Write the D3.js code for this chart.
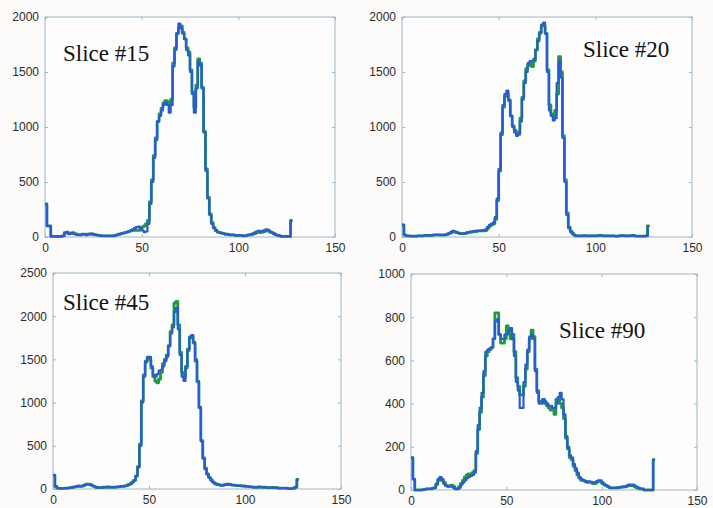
<!DOCTYPE html>
<html><head><meta charset="utf-8">
<script src="https://cdn.jsdelivr.net/npm/d3@7"></script>
<style>body{margin:0;background:#fdfbfa}svg{display:block}</style>
</head><body>
<svg id="chart" width="713" height="508"></svg>
<script>
// ---------- DATA ----------
const sliceLabels = ["Slice #15", "Slice #20", "Slice #45", "Slice #90"];
const xTicks = [0, 50, 100, 150];
const yTicks15 = [0, 500, 1000, 1500, 2000];
const yTicks20 = [0, 500, 1000, 1500, 2000];
const yTicks45 = [0, 500, 1000, 1500, 2000, 2500];
const yTicks90 = [0, 200, 400, 600, 800, 1000];

// histogram bins 0..127 (blue = drawn on top, green = underneath)
const blue15 = [300,100,100,5,5,5,5,5,5,10, 35,40,25,30,35,25,20,20,20,25, 25,20,25,30,30,25,20,15,15,10,
 10,10,10,10,10,10,15,20,25,30, 35,40,45,50,60,70,80,90,95,80, 60,45,50,120,300,500,720,880,1050,1100,
 1150,1200,1220,1200,1130,1200,1550,1700,1850,1940, 1900,1850,1800,1700,1650,1500,1300,1130,1350,1600,
 1560,1350,950,600,350,200,120,80,60,45, 40,35,30,25,25,20,20,20,15,15, 15,15,10,10,15,20,25,30,40,50,
 55,50,55,60,70,65,50,40,30,20, 15,10,5,5,5,5,5,150];
const green15 = [300,100,100,5,5,5,5,5,5,10, 40,45,30,35,40,30,25,20,20,25, 25,20,25,25,25,20,20,15,15,10,
 10,10,10,10,10,10,15,20,25,30, 35,40,45,50,55,60,60,60,60,70, 90,100,120,150,320,520,740,900,1050,1120,
 1170,1220,1240,1230,1200,1250,1580,1720,1850,1900, 1920,1860,1800,1720,1680,1520,1320,1180,1380,1620,
 1580,1360,960,620,360,210,130,85,60,45, 40,35,30,25,25,20,20,20,15,15, 15,15,10,10,15,20,20,25,30,40,
 45,40,45,50,55,55,45,40,30,20, 15,10,5,5,5,5,5,150];

const blue20 = [110,20,10,10,8,8,8,8,10,10, 10,12,15,15,15,15,18,20,20,20, 18,18,20,25,35,45,55,50,40,35,
 30,30,35,40,45,50,50,55,55,55, 55,60,60,70,90,110,120,130,180,350, 620,950,1200,1300,1330,1250,1100,1000,950,920,
 930,1050,1250,1400,1500,1580,1600,1600,1620,1700, 1780,1850,1930,1950,1850,1500,1150,1100,1060,1080,
 1400,1600,1450,900,500,200,80,45,25,15, 10,10,10,10,12,10,10,10,10,10, 10,12,15,12,10,10,10,10,10,10,
 8,8,10,12,12,10,10,10,12,15, 10,8,8,8,8,8,10,100];
const green20 = [110,20,10,10,8,8,8,8,10,10, 10,12,15,15,15,15,18,20,20,20, 18,18,20,25,30,40,50,45,40,35,
 30,30,30,35,40,45,45,50,50,55, 55,55,55,60,80,100,110,120,160,330, 600,930,1180,1280,1300,1240,1100,1010,970,950,
 950,1080,1270,1420,1530,1560,1580,1550,1600,1700, 1800,1860,1920,1920,1850,1520,1200,1120,1100,1150,
 1300,1640,1500,920,520,220,90,50,30,15, 10,10,10,10,12,10,10,10,10,10, 10,12,15,12,10,10,10,10,10,10,
 8,8,10,12,12,10,10,10,12,15, 10,8,8,8,8,8,10,100];

const blue45 = [160,30,10,8,8,8,10,10,12,15, 20,25,30,35,30,35,45,55,55,50, 40,30,20,15,15,15,20,20,25,20,
 20,20,20,25,25,30,30,35,40,50, 60,80,100,150,250,500,1000,1300,1480,1530, 1530,1420,1320,1300,1330,1370,1380,1420,1480,1530,
 1650,1800,1870,2050,2100,1850,1550,1300,1250,1400, 1600,1750,1780,1700,1500,1250,950,550,350,230,
 170,130,100,80,60,50,45,40,40,45, 50,55,50,45,45,40,40,40,35,35, 30,30,25,25,20,20,20,25,20,20,
 20,15,15,15,20,15,15,10,10,10, 10,10,5,5,5,10,20,110];
const green45 = [160,30,10,8,8,8,10,10,12,15, 20,25,30,35,30,35,45,55,55,50, 40,30,20,15,15,15,20,20,25,20,
 20,20,20,25,25,30,30,35,40,50, 60,80,100,150,260,520,1020,1320,1470,1510, 1500,1400,1300,1250,1230,1270,1350,1450,1500,1550,
 1660,1820,1900,2150,2170,1900,1580,1350,1300,1420, 1620,1760,1770,1690,1480,1240,940,560,360,240,
 175,135,105,80,65,55,50,45,45,50, 55,55,50,45,45,40,40,40,35,35, 30,30,25,25,20,20,20,25,20,20,
 20,15,15,15,15,15,15,10,10,10, 10,10,5,5,5,10,20,110];

const blue90 = [150,50,0,0,0,0,2,3,5,5, 5,8,10,30,50,60,50,35,20,15, 15,15,10,5,5,10,25,35,45,55,
 60,65,70,80,180,300,380,450,550,640, 650,655,660,700,780,790,720,700,700,720, 720,740,750,700,620,500,460,380,380,500,
 580,650,710,720,700,550,450,400,400,420, 410,400,390,390,380,380,400,430,450,420, 350,250,200,160,150,120,100,80,60,50,
 45,40,40,40,38,35,35,40,45,45, 35,25,20,15,10,10,10,10,12,12, 15,15,15,20,25,25,25,20,15,10,
 5,5,0,0,0,0,0,140];
const green90 = [150,50,0,0,0,0,2,3,5,5, 5,8,10,25,45,55,45,30,20,18, 20,22,15,5,5,15,30,45,60,70,
 75,75,80,90,170,280,360,430,530,620, 640,650,660,700,820,820,720,680,680,700, 760,740,700,720,640,520,480,440,440,480,
 560,640,700,740,710,560,460,410,410,420, 400,390,380,370,370,350,420,420,400,380, 330,240,190,150,140,110,90,70,55,45,
 45,40,35,35,35,30,30,35,40,40, 30,25,20,15,10,10,10,10,10,12, 12,15,15,18,20,20,20,15,10,8,
 5,5,0,0,0,0,0,140];

// ---------- LAYOUT ----------
const panels = [
  {label: sliceLabels[0], yTicks: yTicks15, blue: blue15, green: green15, L: 45,  T: 17,  R: 335, B: 237, tx: 63,  ty: 61},
  {label: sliceLabels[1], yTicks: yTicks20, blue: blue20, green: green20, L: 402, T: 17,  R: 692, B: 237, tx: 583, ty: 57},
  {label: sliceLabels[2], yTicks: yTicks45, blue: blue45, green: green45, L: 53,  T: 273, R: 341, B: 489, tx: 63,  ty: 310},
  {label: sliceLabels[3], yTicks: yTicks90, blue: blue90, green: green90, L: 411, T: 274, R: 697, B: 490, tx: 559, ty: 338}
];

const svg = d3.select("#chart");
svg.append("rect").attr("width", 713).attr("height", 508).attr("fill", "#fdfbfa");

const frameColor = "#9db7c6";
const textColor = "#2b2b2b";
const font = "'Liberation Sans', Arial, sans-serif";

panels.forEach(p => {
  const yMax = d3.max(p.yTicks);
  const x = d3.scaleLinear().domain([d3.min(xTicks), d3.max(xTicks)]).range([p.L, p.R]);
  const y = d3.scaleLinear().domain([0, yMax]).range([p.B, p.T]);
  const g = svg.append("g");

  g.append("rect").attr("x", p.L).attr("y", p.T).attr("width", p.R - p.L).attr("height", p.B - p.T)
    .attr("fill", "#fefdfd").attr("stroke", frameColor).attr("stroke-width", 1);

  const styleAxis = (sel, showLabels) => {
    sel.select(".domain").remove();
    sel.selectAll(".tick line").attr("stroke", frameColor);
    sel.selectAll(".tick text").attr("fill", textColor).style("font-family", font).style("font-size", "12px")
      .style("display", showLabels ? null : "none");
  };

  g.append("g").attr("transform", `translate(0,${p.B})`)
    .call(d3.axisBottom(x).tickValues(xTicks).tickSizeInner(-3).tickSizeOuter(0).tickPadding(6).tickFormat(d3.format("d")))
    .call(s => styleAxis(s, true));
  g.append("g").attr("transform", `translate(0,${p.T})`)
    .call(d3.axisTop(x).tickValues(xTicks).tickSizeInner(-3).tickSizeOuter(0))
    .call(s => styleAxis(s, false));
  g.append("g").attr("transform", `translate(${p.L},0)`)
    .call(d3.axisLeft(y).tickValues(p.yTicks).tickSizeInner(-3).tickSizeOuter(0).tickPadding(6).tickFormat(d3.format("d")))
    .call(s => styleAxis(s, true));
  g.append("g").attr("transform", `translate(${p.R},0)`)
    .call(d3.axisRight(y).tickValues(p.yTicks).tickSizeInner(-3).tickSizeOuter(0))
    .call(s => styleAxis(s, false));

  const line = d3.line().x((d, i) => x(i)).y(d => y(d)).curve(d3.curveStepAfter);
  const ext = arr => arr.concat([arr[arr.length - 1]]);

  g.append("path").attr("d", line(ext(p.green))).attr("fill", "none")
    .attr("stroke", "#1f9a3e").attr("stroke-width", 2.8).attr("stroke-linejoin", "round");
  g.append("path").attr("d", line(ext(p.blue))).attr("fill", "none")
    .attr("stroke", "#2a5bd7").attr("stroke-width", 2.2).attr("stroke-linejoin", "round");

  g.append("text").attr("x", p.tx).attr("y", p.ty).text(p.label)
    .style("font-family", "'Liberation Serif', 'Times New Roman', serif").style("font-size", "23px").attr("fill", "#111");
});
</script>
</body></html>
